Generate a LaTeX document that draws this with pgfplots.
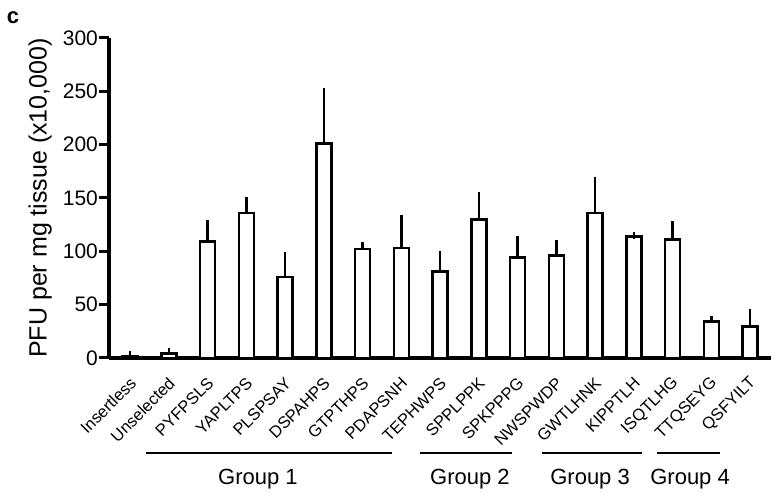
\documentclass[border=0pt]{standalone}
\usepackage{pgfplots}
\usepackage{pgfplotstable}
\pgfplotsset{compat=1.18}
\usepackage{fontspec}
\setmainfont{Liberation Sans}

% PFU per mg tissue (x10,000), mean and upper error
\pgfplotstableread{
x y err
0 2 2
1 4 2.5
2 109 17
3 136 12
4 76 20
5 201 49
6 102 4
7 103 28
8 81 16
9 130 23
10 94 17
11 96 12
12 136 31
13 114 1
14 111 14
15 34 2
16 29.5 13
}\pfudata

\begin{document}
\begin{tikzpicture}
\begin{axis}[
  scale only axis,
  width=662pt, height=320pt,
  xmin=-0.54, xmax=16.54,
  ymin=0, ymax=300,
  axis lines*=left,
  axis line style={line width=3.2pt},
  ytick={0,50,...,300},
  xtick=data,
  xticklabels={Insertless,Unselected,PYFPSLS,YAPLTPS,PLSPSAY,DSPAHPS,GTPTHPS,PDAPSNH,TEPHWPS,SPPLPPK,SPKPPPG,NWSPWDP,GWTLHNK,KIPPTLH,ISQTLHG,TTQSEYG,QSFYILT},
  xtick style={draw=none},
  ytick style={line width=3pt, black},
  major tick length=10pt,
  tick align=outside,
  /pgf/number format/assume math mode=true,
  yticklabel style={font=\fontsize{21}{21}\selectfont, inner sep=1pt},
  xticklabel style={font=\fontsize{16.5}{16.5}\selectfont, rotate=45, anchor=east, inner sep=0pt, xshift=-6.5pt, yshift=-11pt},
  ylabel={PFU per mg tissue (x10,000)},
  ylabel style={font=\fontsize{25}{25}\selectfont, at={(axis description cs:-0.104,0.5)}, anchor=center},
  clip=false,
  ybar, bar width=15pt,
]
\addplot[draw=black, fill=white, line width=2.5pt,
  error bars/.cd, y dir=plus, y explicit,
  error bar style={line width=2.5pt},
  error mark options={line width=2.5pt, mark size=3.2pt}]
  table[x=x, y=y, y error=err] {\pfudata};

% group brackets
\draw[line width=2.8pt] (axis cs:0.413,-89) -- (axis cs:6.76,-89);
\draw[line width=2.8pt] (axis cs:7.48,-89) -- (axis cs:9.86,-89);
\draw[line width=2.8pt] (axis cs:10.63,-89) -- (axis cs:13.21,-89);
\draw[line width=2.8pt] (axis cs:13.60,-89) -- (axis cs:15.22,-89);
\node[font=\fontsize{22}{22}\selectfont, anchor=base] at (axis cs:3.30,-119) {Group 1};
\node[font=\fontsize{22}{22}\selectfont, anchor=base] at (axis cs:8.77,-119) {Group 2};
\node[font=\fontsize{22}{22}\selectfont, anchor=base] at (axis cs:11.87,-119) {Group 3};
\node[font=\fontsize{22}{22}\selectfont, anchor=base] at (axis cs:14.45,-119) {Group 4};
\node[font=\fontsize{22}{22}\selectfont\bfseries] at (axis cs:-3.02,318.7) {c};

% page frame
\path (axis cs:-3.354,-129.4) rectangle (axis cs:16.744,335.6);
\end{axis}
\end{tikzpicture}
\end{document}
